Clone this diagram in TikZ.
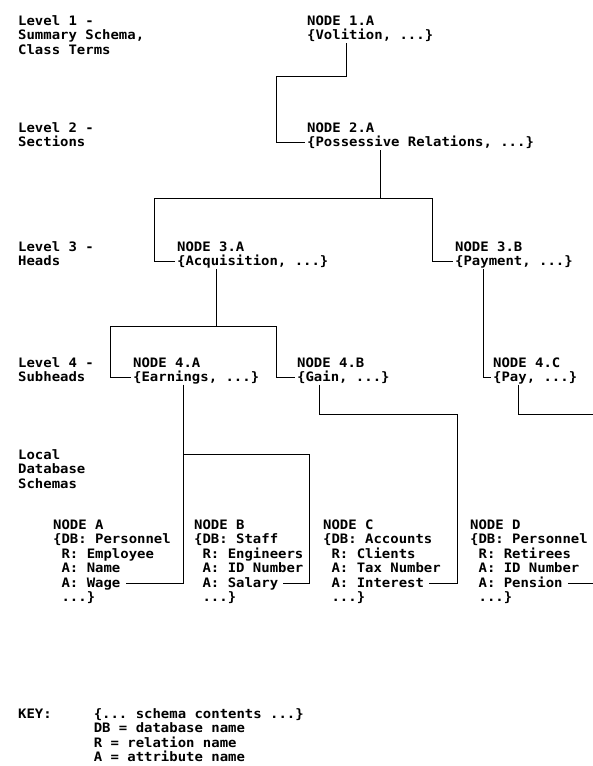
\documentclass[tikz,border=0pt]{standalone}
\usepackage{fontspec}
\newfontfamily\typewr[FakeStretch=1.073]{DejaVu Sans Mono}
\usetikzlibrary{positioning}
\tikzset{
  txt/.style={inner sep=0pt, text height=11pt, text depth=3pt, anchor=base west},
  nextline/.style={below=0pt of #1.south west, anchor=north west},
  link/.style={line width=1pt},
}
\frenchspacing

\begin{document}
\begin{tikzpicture}[x=1pt, y=-1pt, font=\typewr\bfseries\fontsize{13pt}{14pt}\selectfont]
  \useasboundingbox (0,0) rectangle (593,766);

  % captions of the levels, left column
  \node[txt] (lev1) at (18,25.5) {Level 1 -};
  \node[txt, nextline=lev1] (lev1b) {Summary Schema,};
  \node[txt, nextline=lev1b] (lev1c) {Class Terms};
  \node[txt] (lev2) at (18,132.5) {Level 2 -};
  \node[txt, nextline=lev2] (lev2b) {Sections};
  \node[txt] (lev3) at (18,251.5) {Level 3 -};
  \node[txt, nextline=lev3] (lev3b) {Heads};
  \node[txt] (lev4) at (18,367) {Level 4 -};
  \node[txt, nextline=lev4] (lev4b) {Subheads};
  \node[txt] (loc) at (18,459.5) {Local};
  \node[txt, nextline=loc] (locb) {Database};
  \node[txt, nextline=locb] (locc) {Schemas};

  % summary schema and its heads
  \node[txt] (t1a) at (307,25.5) {NODE 1.A};
  \node[txt, nextline=t1a] (v1a) {\{Volition, ...\}};
  \node[txt] (t2a) at (307,132.5) {NODE 2.A};
  \node[txt, nextline=t2a] (v2a) {\{Possessive Relations, ...\}};
  \node[txt] (t3a) at (177,251.5) {NODE 3.A};
  \node[txt, nextline=t3a] (v3a) {\{Acquisition, ...\}};
  \node[txt] (t3b) at (455,251.5) {NODE 3.B};
  \node[txt, nextline=t3b] (v3b) {\{Payment, ...\}};
  \node[txt] (t4a) at (133,367) {NODE 4.A};
  \node[txt, nextline=t4a] (v4a) {\{Earnings, ...\}};
  \node[txt] (t4b) at (297,367) {NODE 4.B};
  \node[txt, nextline=t4b] (v4b) {\{Gain, ...\}};
  \node[txt] (t4c) at (493,367) {NODE 4.C};
  \node[txt, nextline=t4c] (v4c) {\{Pay, ...\}};

  % local database schemas
  \node[txt] (sa) at (53,529.5) {NODE A};
  \node[txt, nextline=sa] (sadb) {\{DB: Personnel};
  \node[txt, nextline=sadb] (sar) {~R: Employee};
  \node[txt, nextline=sar] (saa) {~A: Name};
  \node[txt, nextline=saa] (wa) {~A: Wage};
  \node[txt, nextline=wa] (sae) {~...\}};

  \node[txt] (sb) at (194,529.5) {NODE B};
  \node[txt, nextline=sb] (sbdb) {\{DB: Staff};
  \node[txt, nextline=sbdb] (sbr) {~R: Engineers};
  \node[txt, nextline=sbr] (sba) {~A: ID Number};
  \node[txt, nextline=sba] (wb) {~A: Salary};
  \node[txt, nextline=wb] (sbe) {~...\}};

  \node[txt] (sc) at (323,529.5) {NODE C};
  \node[txt, nextline=sc] (scdb) {\{DB: Accounts};
  \node[txt, nextline=scdb] (scr) {~R: Clients};
  \node[txt, nextline=scr] (sca) {~A: Tax Number};
  \node[txt, nextline=sca] (wc) {~A: Interest};
  \node[txt, nextline=wc] (sce) {~...\}};

  \node[txt] (sd) at (470,529.5) {NODE D};
  \node[txt, nextline=sd] (sddb) {\{DB: Personnel};
  \node[txt, nextline=sddb] (sdr) {~R: Retirees};
  \node[txt, nextline=sdr] (sda) {~A: ID Number};
  \node[txt, nextline=sda] (wd) {~A: Pension};
  \node[txt, nextline=wd] (sde) {~...\}};

  % key
  \node[txt] (key) at (18,718.5) {KEY:};
  \node[txt] (k0) at (93.6,718.5) {\{... schema contents ...\}};
  \node[txt, nextline=k0] (kdb) {DB = database name};
  \node[txt, nextline=kdb] (kr) {R = relation name};
  \node[txt, nextline=kr] (ka) {A = attribute name};

  % bends of the tree
  \coordinate (k1) at (276,76);
  \coordinate (k2a) at (154,198);
  \coordinate (k2b) at (432,198);
  \coordinate (k3a) at (110,326);
  \coordinate (k3b) at (276,326);
  \coordinate (k4a) at (183,454);
  \coordinate (k4b) at (309,454);
  \coordinate (k5) at (457,414);
  \coordinate (edge) at (593,414);

  % connectors
  \draw[link] ([xshift=39pt]v1a.south west) |- (k1) |- ([xshift=-2pt]v2a.west);
  \draw[link] ([xshift=73pt]v2a.south west) coordinate (d2) -- (d2 |- k2a);
  \draw[link] ([xshift=-2pt]v3a.west) -| (k2a) -- (k2b) |- ([xshift=-2pt]v3b.west);
  \draw[link] ([xshift=39pt]v3a.south west) coordinate (d3) -- (d3 |- k3a);
  \draw[link] ([xshift=-2pt]v4a.west) -| (k3a) -- (k3b) |- ([xshift=-2pt]v4b.west);
  \draw[link] ([xshift=28pt]v3b.south west) |- ([xshift=-2pt]v4c.west);
  \draw[link] ([xshift=50pt]v4a.south west) |- ([xshift=5pt]wa.east);
  \draw[link] (k4a) -- (k4b) |- ([xshift=5pt]wb.east);
  \draw[link] ([xshift=22pt]v4b.south west) |- (k5) |- ([xshift=5pt]wc.east);
  \draw[link] ([xshift=25pt]v4c.south west) |- (edge);
  \draw[link] ([xshift=5pt]wd.east) -- (wd.east -| edge);
\end{tikzpicture}
\end{document}
